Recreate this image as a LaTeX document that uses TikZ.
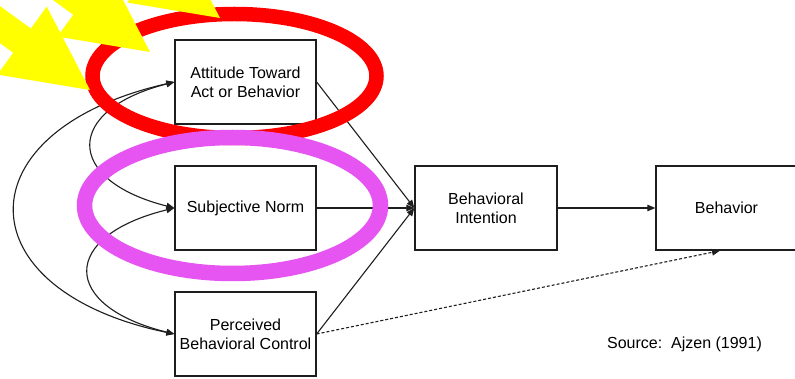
\documentclass[tikz,border=0pt]{standalone}
\usepackage{fontspec}
\setmainfont{Liberation Sans}
\usetikzlibrary{arrows.meta}
\definecolor{hlred}{RGB}{255,0,0}
\definecolor{hlpink}{RGB}{230,84,242}
\definecolor{hlyellow}{RGB}{255,255,0}
\definecolor{ink}{RGB}{30,30,30}

\begin{document}
\begin{tikzpicture}[x=1pt,y=-1pt,
  box/.style={draw=ink, line width=1.3pt, minimum width=141pt, minimum height=84pt,
    align=center, inner sep=0pt, font=\fontsize{16}{19}\selectfont},
  link/.style={draw=ink, line width=1.1pt, -{Triangle[length=8pt,width=6.5pt]}},
  bothway/.style={draw=ink, line width=1.1pt,
    {Triangle[length=8pt,width=6.5pt]}-{Triangle[length=8pt,width=6.5pt]}},
  dotlink/.style={link, dash pattern=on 3pt off 2pt},
  ring/.style={line width=#1},
  bigarrow/.style={fill=hlyellow}]

\useasboundingbox (0,0) rectangle (795,379);
\clip (0,0) rectangle (795,379);
\fill[white] (0,0) rectangle (795,379);

% the model boxes
\node[box] (att) at (245.5,82)  {Attitude Toward\\Act or Behavior};
\node[box] (sub) at (245.5,208) {Subjective Norm};
\node[box] (pbc) at (245.5,334) {Perceived\\Behavioral Control};
\node[box, minimum width=142pt] (bi) at (486,208) {Behavioral\\Intention};
\node[box] (beh) at (726.5,208) {Behavior};
\node[font=\fontsize{16}{18}\selectfont] (src) at (684.5,344) {Source:\ \ Ajzen (1991)};

% correlations between the antecedents
\draw[bothway] (att.west) .. controls (-38,130) and (-38,290) .. (pbc.west);
\draw[bothway] (att.west) .. controls (64,110) and (64,180) .. (sub.west);
\draw[bothway] (sub.west) .. controls (60,236) and (60,306) .. (pbc.west);

% paths to intention and behaviour
\draw[link] (att.east) -- (bi.west);
\draw[link] (sub.east) -- (bi.west);
\draw[link] (pbc.east) -- (bi.west);
\draw[link] (bi.east) -- (beh.west);
\draw[dotlink] (pbc.east) -- ([xshift=-6.5pt]beh.south);

% highlight rings
\draw[hlred, ring=14.5pt] (234.5,76) ellipse [x radius=142pt, y radius=62pt];
\draw[hlpink, ring=15.5pt] (232.5,205.5) ellipse [x radius=148pt, y radius=68pt];

% pointer arrows
\foreach \tx/\ty in {90/90, 150/52, 220/18}
  \fill[bigarrow, shift={(\tx,\ty)}, rotate=-36]
    (0,0) -- (-84,42) -- (-84,15) -- (-320,15) -- (-320,-15)
    -- (-84,-15) -- (-84,-42) -- cycle;

\end{tikzpicture}
\end{document}
